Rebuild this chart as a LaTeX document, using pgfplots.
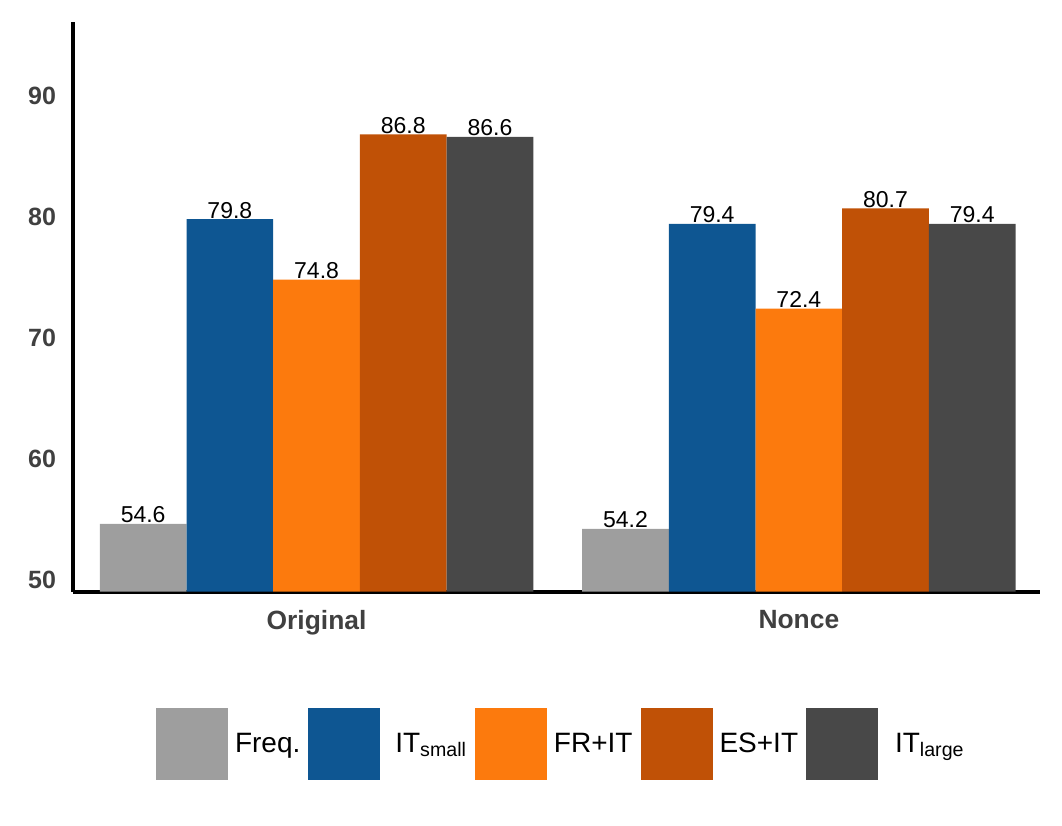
\documentclass[border=0pt]{standalone}
\usepackage{fontspec}
\setmainfont{Liberation Sans}
\usepackage{pgfplots}
\pgfplotsset{compat=1.18}
\definecolor{cFreq}{RGB}{158,158,158}
\definecolor{cSmall}{RGB}{14,86,146}
\definecolor{cFR}{RGB}{252,122,13}
\definecolor{cES}{RGB}{192,81,6}
\definecolor{cLarge}{RGB}{72,72,72}
\definecolor{tickgray}{RGB}{64,64,64}
\pgfplotsset{sqlegend/.style={legend image code/.code={\fill[##1] (0pt,-18pt) rectangle (36pt,18pt);}}}
\begin{document}
\begin{tikzpicture}
\begin{axis}[name=ax,
  scale only axis, width=483.5pt, height=284.85pt,
  xmin=-0.505, xmax=1.5, ymin=49, ymax=96.1,
  axis x line*=bottom, axis y line*=left,
  axis line style={-, line width=2pt, black},
  ybar=0pt, bar width=43.35pt,
  xtick={0,1}, xticklabels={Original,Nonce},
  ytick={50,60,70,80,90},
  major tick length=0pt,
  /pgf/number format/assume math mode=true,
  ticklabel style={font=\fontsize{12.5}{15}\selectfont\bfseries, text=tickgray},
  yticklabel style={xshift=-5pt},
  xticklabel style={font=\fontsize{13.2}{15}\selectfont\bfseries, yshift=-6pt},
  nodes near coords={\pgfmathprintnumber[fixed,fixed zerofill,precision=1,assume math mode=true]{\pgfplotspointmeta}},
  nodes near coords style={font=\fontsize{11.5}{13}\selectfont, text=black, anchor=base, yshift=0.5pt},
  legend columns=5,
  legend style={at={(0.506,0)}, anchor=north, yshift=-58.15pt, draw=none, inner sep=0pt,
    font=\fontsize{14}{16}\selectfont, nodes={inner xsep=2pt, inner ysep=0pt},
    /tikz/every even column/.append style={column sep=2pt},
    /tikz/every odd column/.append style={column sep=1.5pt}},
]
\addplot[fill=cFreq, draw=none, sqlegend] coordinates {(0,54.6) (1,54.2)};
\addplot[fill=cSmall, draw=none, sqlegend] coordinates {(0,79.8) (1,79.4)};
\addplot[fill=cFR, draw=none, sqlegend] coordinates {(0,74.8) (1,72.4)};
\addplot[fill=cES, draw=none, sqlegend] coordinates {(0,86.8) (1,80.7)};
\addplot[fill=cLarge, draw=none, sqlegend] coordinates {(0,86.6) (1,79.4)};
\legend{Freq.,\hspace{4pt}IT\textsubscript{small},FR+IT,ES+IT,\hspace{5pt}IT\textsubscript{large}}
\end{axis}
\path[use as bounding box] ([xshift=-36.5pt,yshift=-117.15pt]ax.south west) rectangle ++(531pt,413pt);
\end{tikzpicture}
\end{document}
